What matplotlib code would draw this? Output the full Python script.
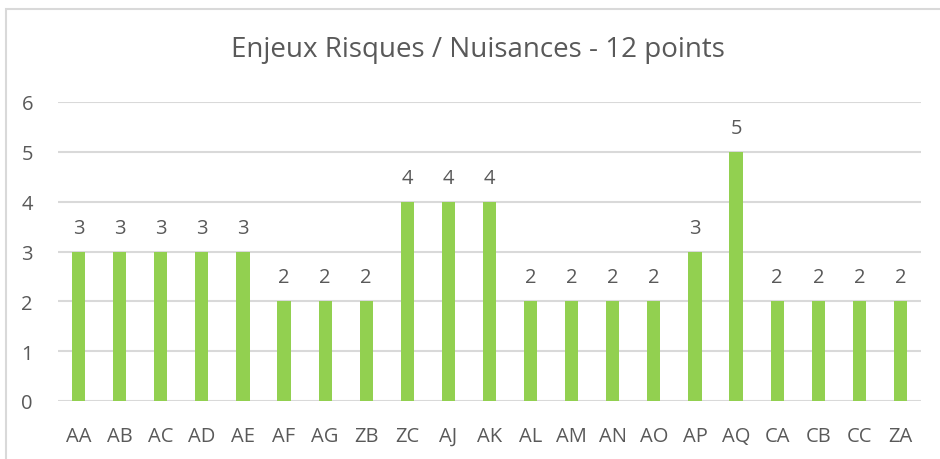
import matplotlib.pyplot as plt
from matplotlib.patches import Rectangle

categories = ['AA', 'AB', 'AC', 'AD', 'AE', 'AF', 'AG', 'ZB', 'ZC', 'AJ', 'AK',
              'AL', 'AM', 'AN', 'AO', 'AP', 'AQ', 'CA', 'CB', 'CC', 'ZA']
values = [3, 3, 3, 3, 3, 2, 2, 2, 4, 4, 4, 2, 2, 2, 2, 3, 5, 2, 2, 2, 2]
yticks = [0, 1, 2, 3, 4, 5, 6]
title = 'Enjeux Risques / Nuisances - 12 points'

text_col = '#595959'
grid_col = '#D9D9D9'
bar_col = '#92D050'

plt.rcParams['font.family'] = ['Open Sans', 'DejaVu Sans']

W, H = 940, 460
fig = plt.figure(figsize=(W / 100, H / 100), dpi=100)

# chart frame, runs off the right and bottom edges
fig.patches.append(Rectangle((6 / W, -0.1), 1.1, 1 - 10 / H + 0.1,
                             transform=fig.transFigure, fill=False,
                             edgecolor=grid_col, linewidth=1.5))

ax = fig.add_axes([58 / W, 1 - 402 / H, (921 - 58) / W, (402 - 103) / H])
x = range(len(categories))
bars = ax.bar(x, values, width=0.32, color=bar_col, zorder=3)

ax.set_xlim(-0.5, len(categories) - 0.5)
ax.set_ylim(0, 6)
ax.set_yticks(yticks)
ax.set_xticks(list(x))
ax.set_xticklabels(categories)
ax.grid(axis='y', color=grid_col, linewidth=1.5, zorder=0)
for s in ax.spines.values():
    s.set_visible(False)
ax.tick_params(length=0, labelsize=14.5, colors=text_col)
ax.tick_params(axis='x', pad=18)
ax.tick_params(axis='y', pad=18)

for b, v in zip(bars, values):
    ax.annotate(str(v), (b.get_x() + b.get_width() / 2, v),
                xytext=(0, 10), textcoords='offset points',
                ha='center', va='bottom', fontsize=14.5, color=text_col)

fig.text(478 / W, 1 - 50 / H, title, ha='center', va='center',
         fontsize=20, color=text_col)

fig.savefig('out.png', dpi=100)
